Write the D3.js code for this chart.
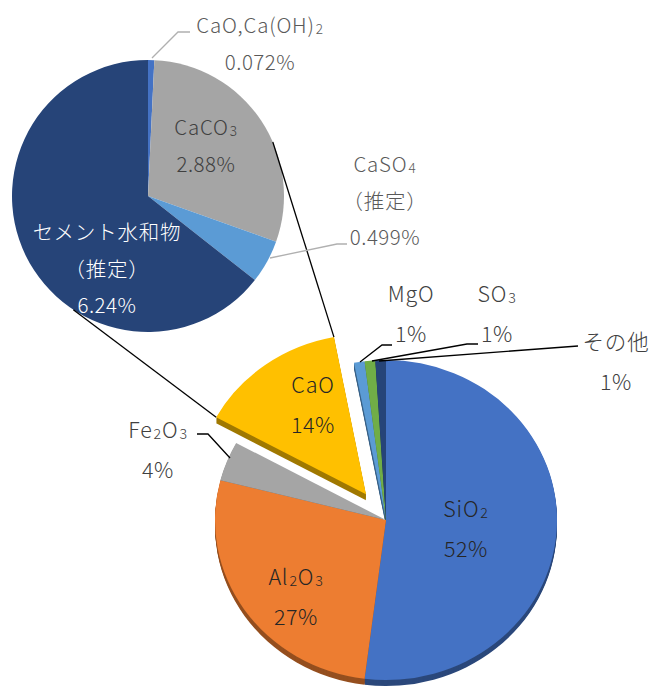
<!DOCTYPE html>
<html>
<head>
<meta charset="utf-8">
<script src="https://cdn.jsdelivr.net/npm/d3@7"></script>
<style>
  body { margin: 0; background: #fff; }
  svg { display: block; }
  text { font-family: "Noto Sans CJK JP", "Noto Sans", sans-serif; font-weight: 300; }
</style>
</head>
<body>
<svg id="chart" width="655" height="691"></svg>
<script>
// Overall composition (% of total)
const mainCategories = ["SiO2", "Al2O3", "Fe2O3", "CaO", "MgO", "SO3", "その他"];
const mainValues     = [52, 27, 4, 14, 1, 1, 1];
const mainLabels     = ["52%", "27%", "4%", "14%", "1%", "1%", "1%"];
const mainColors     = ["#4472c4", "#ed7d31", "#a5a5a5", "#ffc000", "#5b9bd5", "#70ad47", "#264478"];

// Breakdown of the CaO share (% of total)
const subCategories  = ["CaO,Ca(OH)2", "CaCO3", "CaSO4\n（推定）", "セメント水和物\n（推定）"];
const subValues      = [0.072, 2.88, 0.499, 6.24];
const subLabels      = ["0.072%", "2.88%", "0.499%", "6.24%"];
const subColors      = ["#4472c4", "#a5a5a5", "#5b9bd5", "#264478"];

const explodedIndex = mainCategories.indexOf("CaO");

// ---- layout ----
const svg = d3.select("#chart");
const main = { cx: 386, cy: 520, rx: 171, ry: 160, depth: 6, explode: 34 };
const sub  = { cx: 148, cy: 196, r: 136 };

const mainPie = d3.pie().sort(null).value(d => d)(mainValues);
const subPie  = d3.pie().sort(null).value(d => d)(subValues);

const mainArc = d3.arc().innerRadius(0).outerRadius(main.rx);
const subArc  = d3.arc().innerRadius(0).outerRadius(sub.r);
const yScale = main.ry / main.rx;

function explodeOffset(d) {
  if (d.index !== explodedIndex) return [0, 0];
  const m = (d.startAngle + d.endAngle) / 2;
  return [Math.sin(m) * main.explode, -Math.cos(m) * main.explode * yScale];
}
// point on the (tilted) rim of the main pie, in page coordinates
function rimPoint(d, angle) {
  const [ox, oy] = explodeOffset(d);
  return [main.cx + ox + Math.sin(angle) * main.rx,
          main.cy + oy - Math.cos(angle) * main.rx * yScale];
}

// ---- main pie: side walls, then top faces ----
const gMain = svg.append("g");
for (let k = main.depth; k >= 1; k--) {
  gMain.append("g").selectAll("path").data(mainPie).join("path")
    .attr("transform", d => {
      const [ox, oy] = explodeOffset(d);
      return `translate(${main.cx + ox},${main.cy + oy + k}) scale(1,${yScale})`;
    })
    .attr("d", mainArc)
    .attr("fill", d => d3.color(mainColors[d.index]).darker(1.3));
}
gMain.append("g").selectAll("path").data(mainPie).join("path")
  .attr("transform", d => {
    const [ox, oy] = explodeOffset(d);
    return `translate(${main.cx + ox},${main.cy + oy}) scale(1,${yScale})`;
  })
  .attr("d", mainArc)
  .attr("fill", d => mainColors[d.index]);

// ---- secondary pie ----
const gSub = svg.append("g").attr("transform", `translate(${sub.cx},${sub.cy})`);
gSub.selectAll("path").data(subPie).join("path")
  .attr("d", subArc)
  .attr("fill", d => subColors[d.index]);

// ---- connector lines between the CaO slice and the secondary pie ----
const cao = mainPie[explodedIndex];
const subPoint = a => [sub.cx + Math.sin(a) * sub.r, sub.cy - Math.cos(a) * sub.r];
const connectors = [
  [subPoint(66.6 * Math.PI / 180), rimPoint(cao, cao.endAngle)],
  [subPoint(213.3 * Math.PI / 180), rimPoint(cao, cao.startAngle)]
];
svg.append("g").selectAll("line").data(connectors).join("line")
  .attr("x1", d => d[0][0]).attr("y1", d => d[0][1])
  .attr("x2", d => d[1][0]).attr("y2", d => d[1][1])
  .attr("stroke", "#000").attr("stroke-width", 1.3);

// ---- leader lines ----
const leaderMain = [
  { i: 2, pts: [[230, 458], [208, 434], [197, 434]] },
  { i: 4, pts: [[360, 362], [382, 345], [392, 345]] },
  { i: 5, pts: [[372, 361], [467, 344], [478, 344]] },
  { i: 6, pts: [[379, 361], [578, 346]] }
];
const leaderSub = [
  { i: 0, pts: [[152, 58], [178, 32], [190, 32]] },
  { i: 2, pts: [[270, 258], [337, 244], [347, 244]] }
];
const line = d3.line();
svg.append("g").selectAll("path").data(leaderMain).join("path")
  .attr("d", d => line(d.pts)).attr("fill", "none")
  .attr("stroke", "#000").attr("stroke-width", 1.3);
svg.append("g").selectAll("path").data(leaderSub).join("path")
  .attr("d", d => line(d.pts)).attr("fill", "none")
  .attr("stroke", "#b0b0b0").attr("stroke-width", 1.3);

// ---- labels ----
// digits that follow a letter or ")" are set as subscripts
function addRich(textSel, str) {
  const parts = str.split(/(?<=[A-Za-z)])(\d)/);
  parts.forEach((p, j) => {
    if (!p) return;
    const t = textSel.append("tspan").text(p);
    if (j % 2 === 1) t.attr("font-size", "0.66em").attr("dx", 1).attr("dy", 1);
    else if (j > 0) t.attr("dy", -1);
  });
}
function drawLabel(g, x, y, gap, name, value, color, size) {
  const lines = name.split("\n");
  lines.forEach((ln, j) => {
    const t = g.append("text").attr("x", x).attr("y", y + j * gap)
      .attr("text-anchor", "middle").attr("fill", color).attr("font-size", size)
      .attr("letter-spacing", 0.8);
    addRich(t, ln);
  });
  g.append("text").attr("x", x).attr("y", y + lines.length * gap)
    .attr("text-anchor", "middle").attr("fill", color).attr("font-size", size)
    .attr("letter-spacing", 0.5)
    .text(value);
}

const mainLabelPos = [[466, 517], [296, 585], [158, 438], [313, 393], [411, 302], [497, 302], [616, 350]];
const mainLabelColor = ["#262626", "#262626", "#404040", "#262626", "#404040", "#404040", "#404040"];
const gLab = svg.append("g");
mainCategories.forEach((c, i) => {
  drawLabel(gLab, mainLabelPos[i][0], mainLabelPos[i][1], 40, c, mainLabels[i], mainLabelColor[i], 21.5);
});

const subLabelPos = [[260, 33], [206, 135], [385, 172], [107, 240]];
const subLabelColor = ["#595959", "#404040", "#595959", "#ffffff"];
subCategories.forEach((c, i) => {
  drawLabel(gLab, subLabelPos[i][0], subLabelPos[i][1], 36.5, c, subLabels[i], subLabelColor[i], 20.5);
});
</script>
</body>
</html>
